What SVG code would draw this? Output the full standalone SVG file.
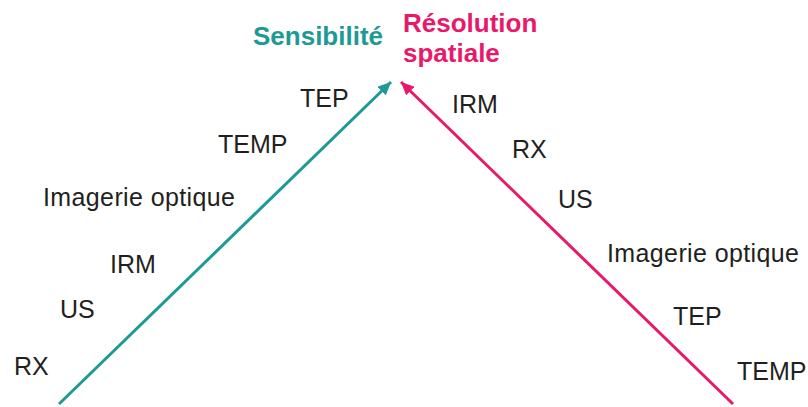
<svg xmlns="http://www.w3.org/2000/svg" width="808" height="407" viewBox="0 0 808 407">
<style>
.lbl{font-family:"Liberation Sans",Arial,sans-serif;font-size:25px;fill:#231f20}
.ttl{font-family:"Liberation Sans",Arial,sans-serif;font-size:26px;font-weight:bold}
</style>
<defs>
<marker id="ah-teal" markerUnits="userSpaceOnUse" markerWidth="14" markerHeight="12" refX="13" refY="6" orient="auto">
<path d="M0,0 L13,6 L0,12 z" fill="#1d9a94"/>
</marker>
<marker id="ah-pink" markerUnits="userSpaceOnUse" markerWidth="14" markerHeight="12" refX="13" refY="6" orient="auto">
<path d="M0,0 L13,6 L0,12 z" fill="#e8196a"/>
</marker>
</defs>
<rect width="808" height="407" fill="#ffffff"/>
<g id="connectors">
<line x1="59" y1="404" x2="391" y2="82" stroke="#1d9a94" stroke-width="3" marker-end="url(#ah-teal)"/>
<line x1="733" y1="404" x2="401" y2="82" stroke="#e8196a" stroke-width="3" marker-end="url(#ah-pink)"/>
</g>
<g id="title-sensibilite"><text class="ttl" x="253" y="45" fill="#1d9a94">Sensibilité</text></g>
<g id="title-resolution"><text class="ttl" x="403" y="32" fill="#e8196a">Résolution</text><text class="ttl" x="403" y="62" fill="#e8196a">spatiale</text></g>
<g id="left-labels">
<g id="l-tep"><text class="lbl" x="300" y="107">TEP</text></g>
<g id="l-temp"><text class="lbl" x="218" y="153">TEMP</text></g>
<g id="l-optique"><text class="lbl" x="43" y="206" textLength="192" lengthAdjust="spacing">Imagerie optique</text></g>
<g id="l-irm"><text class="lbl" x="110" y="273">IRM</text></g>
<g id="l-us"><text class="lbl" x="60" y="318">US</text></g>
<g id="l-rx"><text class="lbl" x="14" y="375">RX</text></g>
</g>
<g id="right-labels">
<g id="r-irm"><text class="lbl" x="452" y="113">IRM</text></g>
<g id="r-rx"><text class="lbl" x="512" y="158">RX</text></g>
<g id="r-us"><text class="lbl" x="558" y="208">US</text></g>
<g id="r-optique"><text class="lbl" x="607" y="262" textLength="192" lengthAdjust="spacing">Imagerie optique</text></g>
<g id="r-tep"><text class="lbl" x="673" y="325">TEP</text></g>
<g id="r-temp"><text class="lbl" x="737" y="380">TEMP</text></g>
</g>
</svg>
